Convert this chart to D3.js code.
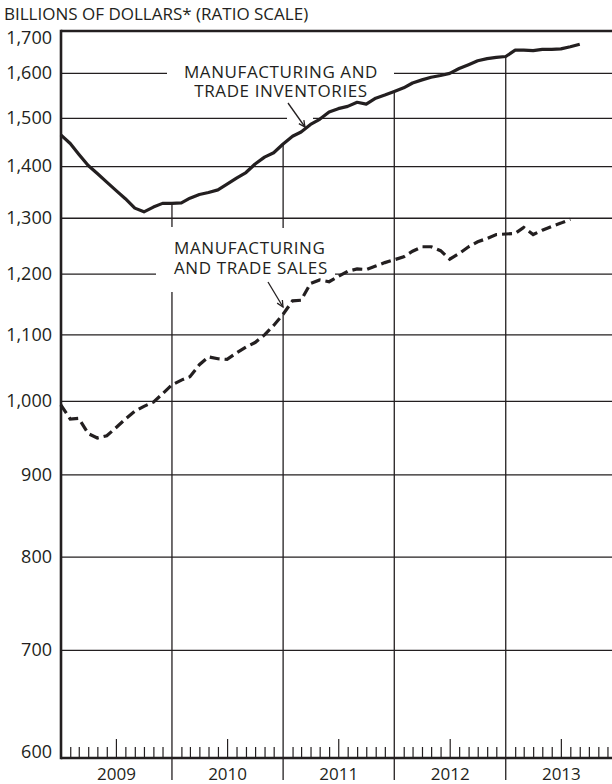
<!DOCTYPE html>
<html>
<head>
<meta charset="utf-8">
<script src="https://cdn.jsdelivr.net/npm/d3@7"></script>
<style>
  body { margin: 0; background: #fff; }
  text { font-family: "Open Sans", sans-serif; fill: #231f20; }
</style>
</head>
<body>
<div id="chart"></div>
<script>
// monthly values, Jan 2009 onwards (billions of dollars)
var startMonth = new Date(2009, 0, 1);
var inventories = [1465, 1447, 1425, 1402, 1386, 1369, 1353, 1337, 1319, 1312, 1321, 1328,
                   1328, 1329, 1338, 1345, 1349, 1354, 1365, 1377, 1388, 1405, 1419, 1428,
                   1446, 1462, 1471, 1487, 1498, 1514, 1521, 1526, 1535, 1531, 1544, 1551,
                   1559, 1567, 1578, 1585, 1591, 1595, 1600, 1611, 1620, 1629, 1634, 1637,
                   1639, 1654, 1654, 1653, 1656, 1656, 1657, 1662, 1668];
var sales = [995, 975, 976, 955, 949, 952, 963, 975, 986, 993, 999, 1011,
             1024, 1031, 1036, 1054, 1066, 1063, 1062, 1072, 1081, 1088, 1100, 1115,
             1133, 1155, 1156, 1184, 1190, 1187, 1196, 1205, 1209, 1208, 1214, 1220,
             1225, 1230, 1240, 1248, 1248, 1241, 1226, 1236, 1248, 1257, 1263, 1270,
             1271, 1272, 1283, 1270, 1278, 1285, 1291, 1298];
var yTicks = [600, 700, 800, 900, 1000, 1100, 1200, 1300, 1400, 1500, 1600, 1700];
var years = [2009, 2010, 2011, 2012, 2013];
var titleText = "BILLIONS OF DOLLARS* (RATIO SCALE)";
var invLabel = ["MANUFACTURING AND", "TRADE INVENTORIES"];
var salesLabel = ["MANUFACTURING", "AND TRADE SALES"];

var ink = "#231f20";
var width = 612, height = 784;
var margin = { top: 31, bottom: 758, left: 61, right: 612 };

var svg = d3.select("#chart").append("svg")
  .attr("width", width)
  .attr("height", height);

var x = d3.scaleTime()
  .domain([new Date(2009, 0, 1), new Date(2014, 0, 1)])
  .range([60.8, 616.9]);

var y = d3.scaleLog()
  .domain([600, 1700])
  .range([margin.bottom, margin.top]);

function monthDate(i) { return d3.timeMonth.offset(startMonth, i); }

// horizontal grid, with gaps where the labels sit
var gridGaps = { 1600: [[167, 394]], 1500: [[287, 313]], 1200: [[156, 335]] };
var grid = svg.append("g").attr("stroke", ink).attr("stroke-width", 1.3);
yTicks.filter(d => d != 600 && d != 1700).forEach(function (v) {
  var segs = [];
  var x0 = margin.left;
  (gridGaps[v] || []).forEach(function (g) { segs.push([x0, g[0]]); x0 = g[1]; });
  segs.push([x0, margin.right]);
  segs.forEach(function (s) {
    grid.append("line")
      .attr("x1", s[0]).attr("x2", s[1])
      .attr("y1", y(v)).attr("y2", y(v));
  });
});

// year lines, starting under the inventory curve
years.slice(1).forEach(function (yr) {
  var xi = x(new Date(yr, 0, 1));
  var idx = (yr - 2009) * 12;
  var y0 = y(inventories[idx]) + 1;
  var segs;
  if (yr == 2010) segs = [[y0, 227], [292, 780]];
  else if (yr == 2011) segs = [[y0, 228], [y(sales[idx]), 780]];
  else segs = [[y0, 780]];
  segs.forEach(function (s) {
    grid.append("line")
      .attr("x1", xi).attr("x2", xi)
      .attr("y1", s[0]).attr("y2", s[1]);
  });
});

// series
var line = d3.line()
  .x((d, i) => x(monthDate(i)))
  .y(d => y(d));

svg.append("path")
  .datum(inventories)
  .attr("fill", "none")
  .attr("stroke", ink)
  .attr("stroke-width", 3.2)
  .attr("stroke-linejoin", "round")
  .attr("d", line);

svg.append("path")
  .datum(sales)
  .attr("fill", "none")
  .attr("stroke", ink)
  .attr("stroke-width", 3.2)
  .attr("stroke-dasharray", "10,5")
  .attr("d", line);

// frame
var frame = svg.append("g").attr("stroke", ink).attr("stroke-width", 2.6);
frame.append("line").attr("x1", margin.left).attr("x2", margin.right).attr("y1", margin.top).attr("y2", margin.top);
frame.append("line").attr("x1", margin.left).attr("x2", margin.left).attr("y1", margin.top - 1.3).attr("y2", margin.bottom + 1.3);
frame.append("line").attr("x1", margin.left).attr("x2", margin.right).attr("y1", margin.bottom).attr("y2", margin.bottom);

// month ticks along the bottom
var monthTicks = d3.timeMonth.range(new Date(2009, 0, 1), new Date(2014, 0, 1))
  .filter(d => d.getMonth() != 0);
var mAxis = svg.append("g")
  .attr("transform", `translate(0,${margin.bottom})`)
  .call(d3.axisBottom(x).tickValues(monthTicks).tickSize(-11).tickFormat(""));
mAxis.select(".domain").remove();
mAxis.selectAll(".tick line")
  .attr("stroke", ink)
  .attr("stroke-width", 1.2)
  .attr("y2", d => d.getMonth() == 6 ? -19 : -11);

// year labels
var yrAxis = svg.append("g")
  .attr("transform", `translate(0,${margin.bottom})`)
  .call(d3.axisBottom(x)
    .tickValues(years.map(d => new Date(d, 6, 1)))
    .tickSize(0)
    .tickPadding(10)
    .tickFormat(d3.timeFormat("%Y")));
yrAxis.select(".domain").remove();
yrAxis.selectAll("text")
  .attr("font-size", "17px")
  .attr("font-family", "Open Sans, sans-serif")
  .attr("fill", ink);

// y labels
var yAxis = svg.append("g")
  .attr("transform", `translate(${margin.left},0)`)
  .call(d3.axisLeft(y).tickValues(yTicks).tickSize(0).tickPadding(9).tickFormat(d3.format(",")));
yAxis.select(".domain").remove();
yAxis.selectAll(".tick")
  .attr("transform", d => `translate(0,${Math.min(Math.max(y(d), 38), 752)})`);
yAxis.selectAll("text")
  .attr("font-size", "18px")
  .attr("font-family", "Open Sans, sans-serif")
  .attr("fill", ink);

// title
svg.append("text")
  .attr("x", 4).attr("y", 20)
  .attr("font-size", "17px")
  .text(titleText);

// annotations
svg.append("g").selectAll("text")
  .data(invLabel).join("text")
  .attr("x", 281).attr("y", (d, i) => 78 + i * 19)
  .attr("text-anchor", "middle")
  .attr("font-size", "17px")
  .attr("letter-spacing", "0.6px")
  .text(d => d);

svg.append("g").selectAll("text")
  .data(salesLabel).join("text")
  .attr("x", 174).attr("y", (d, i) => 254 + i * 20)
  .attr("font-size", "17px")
  .attr("letter-spacing", "0.6px")
  .text(d => d);

function arrow(x1, y1, x2, y2) {
  var a = Math.atan2(y2 - y1, x2 - x1), h = 7, s = 0.45;
  var g = svg.append("g").attr("stroke", ink).attr("stroke-width", 1.3).attr("fill", "none");
  g.append("line").attr("x1", x1).attr("y1", y1).attr("x2", x2).attr("y2", y2);
  g.append("path").attr("d",
    `M${x2 - h * Math.cos(a - s)},${y2 - h * Math.sin(a - s)}L${x2},${y2}L${x2 - h * Math.cos(a + s)},${y2 - h * Math.sin(a + s)}`);
}
arrow(288, 103, 305, 127);
arrow(268, 282, 283, 307);
</script>
</body>
</html>
